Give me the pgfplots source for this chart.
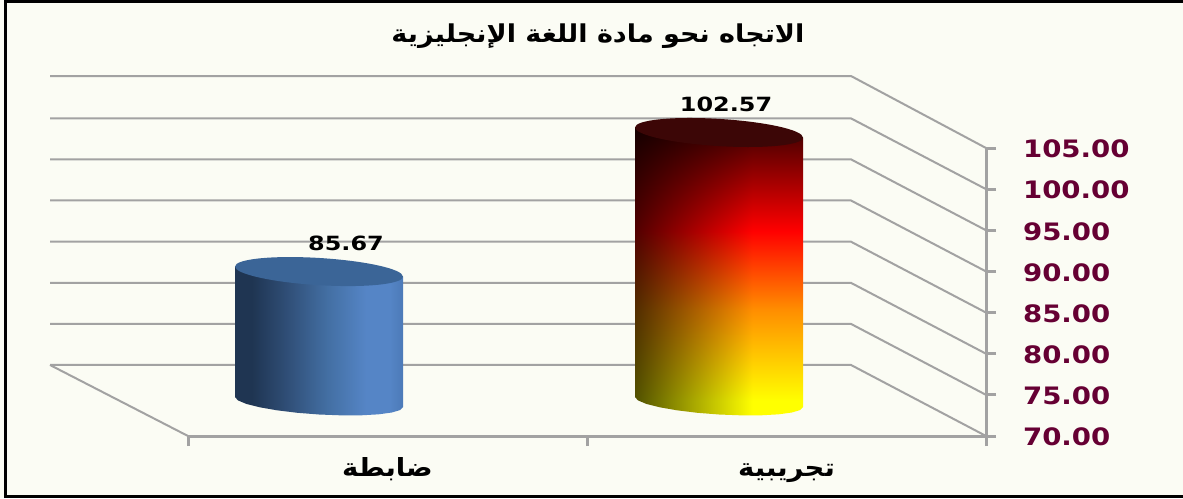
\documentclass[border=0pt]{standalone}
\usepackage{fontspec}
\usepackage{pgfplots}
\pgfplotsset{compat=1.18}
\setmainfont{DejaVu Sans}
\newfontfamily\arabicfont[Script=Arabic,FakeStretch=1.1]{DejaVu Sans}
\newfontfamily\axisnum[FakeStretch=1.15]{DejaVu Sans}
\newfontfamily\valnum[FakeStretch=1.22]{DejaVu Sans}
\TeXXeTstate=1
\definecolor{bgc}{HTML}{FBFCF4}
\definecolor{gridc}{HTML}{A2A2A2}
\definecolor{tickc}{HTML}{660033}
\definecolor{capblue}{HTML}{3B6597}
\definecolor{capred}{HTML}{3C0606}
\pgfdeclareplotmark{cap}{%
  \pgftransformcm{1}{-0.06}{0}{1}{\pgfpointorigin}%
  \pgfpathellipse{\pgfpointorigin}{\pgfpoint{42pt}{0pt}}{\pgfpoint{0pt}{6.8pt}}%
  \pgfusepath{fill}}
\definecolor{b0}{HTML}{1F3552}
\definecolor{b1}{HTML}{2F4D75}
\definecolor{b2}{HTML}{436FA3}
\definecolor{b3}{HTML}{5585C6}
\definecolor{b4}{HTML}{4C7AB8}
\pgfdeclarehorizontalshading{bluecyl}{100bp}{
  color(0bp)=(b0); color(30bp)=(b0); color(40bp)=(b1); color(52.5bp)=(b2); color(64bp)=(b3); color(71bp)=(b3); color(75bp)=(b4); color(100bp)=(b4)}
\pgfdeclarefunctionalshading{redcyl}{\pgfpoint{-50bp}{-50bp}}{\pgfpoint{50bp}{50bp}}{}{
  25 add 50 div exch 25 add 50 div
  0.7 div dup 1 gt {pop 1} if 0.68 mul 0.32 add
  exch
  dup
  dup 0.64 gt {0.64 sub 2.083 mul 1 exch sub} {pop 1} ifelse
  exch
  dup 0.05 lt {pop 1} {dup 0.365 lt {0.05 sub 1.4 mul 1 exch sub} {0.64 exch sub 2.037 mul dup 0 lt {pop 0} if} ifelse} ifelse
  3 -1 roll
  dup 3 1 roll mul
  3 1 roll mul
  exch
  0
}
\begin{document}
\begin{tikzpicture}
\path[use as bounding box] (0,0) rectangle (591.5pt,249pt);
\fill[bgc] (0,0) rectangle (591.5pt,249pt);
\draw[black,line width=1.5pt] (591.5pt,248pt) -- (2.5pt,248pt) -- (2.5pt,1pt) -- (591.5pt,1pt);
\begin{axis}[
  at={(94pt,31pt)}, anchor=south west,
  scale only axis, width=399pt, height=144pt,
  xmin=188, xmax=986, ymin=70, ymax=105,
  clip=false,
  axis x line=bottom, axis y line=right,
  axis line style={gridc,line width=1.5pt,-},
  tick style={gridc,line width=1.5pt},
  tick align=outside, major tick length=5pt,
  xtick={188,587,986}, xticklabels={,,},
  extra x ticks={387.5,786.5},
  extra x tick style={major tick length=0pt},
  extra x tick labels={{\arabicfont\bfseries\beginR ضابطة\endR},{\arabicfont\bfseries\beginR تجريبية\endR}},
  ytick={70,75,...,105},
  yticklabel style={/pgf/number format/fixed,/pgf/number format/fixed zerofill,/pgf/number format/precision=2,
    /pgf/number format/assume math mode=true,
    font=\axisnum\bfseries\fontsize{12pt}{12pt}\selectfont,text=tickc,xshift=10pt,yshift=-0.5pt},
  xticklabel style={font=\fontsize{12.5pt}{12.5pt}\selectfont,anchor=base,yshift=-20pt},
  title={\arabicfont\bfseries\beginR الاتجاه نحو مادة اللغة الإنجليزية\endR},
  title style={at={(0.5138,1.347)},anchor=center,yshift=0pt,font=\fontsize{12.3pt}{12.5pt}\selectfont},
]
% back wall, floor and side gridlines (front-plane value, x in chart units)
\pgfplotsset{grid line/.style={gridc,line width=1pt,no markers,forget plot}}
\addplot[grid line] coordinates {(50,78.63) (851,78.63) (986,70)};
\addplot[grid line] coordinates {(50,83.62) (851,83.62) (986,75)};
\addplot[grid line] coordinates {(50,88.61) (851,88.61) (986,80)};
\addplot[grid line] coordinates {(50,93.61) (851,93.61) (986,85)};
\addplot[grid line] coordinates {(50,98.62) (851,98.62) (986,90)};
\addplot[grid line] coordinates {(50,103.62) (851,103.62) (986,95)};
\addplot[grid line] coordinates {(50,108.60) (851,108.60) (986,100)};
\addplot[grid line] coordinates {(50,113.75) (851,113.75) (986,105)};
\addplot[grid line] coordinates {(188,70) (50,78.63)};
% control cylinder
\addplot[draw=none,shading=bluecyl,yshift=17pt,forget plot] coordinates {
 (235,86.47) (235,70.61) (237.9,70.20) (246.3,69.77) (259.6,69.36) (277,68.99) (297.2,68.69)
 (319,68.48) (340.8,68.38) (361,68.38) (378.4,68.50) (391.7,68.72) (400.1,69.02) (403,69.39) (403,85.25)} -- cycle;
\addplot[only marks,mark=cap,mark options={fill=capblue,draw=none},yshift=17.75pt,forget plot] coordinates {(319,85.67)};
% experimental cylinder
\addplot[draw=none,shading=redcyl,yshift=17pt,forget plot] coordinates {
 (635,103.36) (635,70.61) (637.9,70.20) (646.3,69.77) (659.6,69.36) (677,68.99) (697.2,68.69)
 (719,68.48) (740.8,68.38) (761,68.38) (778.4,68.50) (791.7,68.72) (800.1,69.02) (803,69.39) (803,102.14)} -- cycle;
\addplot[only marks,mark=cap,mark options={fill=capred,draw=none},yshift=17.75pt,forget plot] coordinates {(719,102.57)};
% value labels
\addplot[only marks,mark=none,point meta=explicit symbolic,forget plot,
  nodes near coords,
  nodes near coords style={anchor=center,yshift=32pt,text=black,font=\valnum\bfseries\fontsize{9.8pt}{10pt}\selectfont}]
  coordinates {(346,85.67)[85.67] (726,102.57)[102.57]};
\end{axis}
\end{tikzpicture}
\end{document}
